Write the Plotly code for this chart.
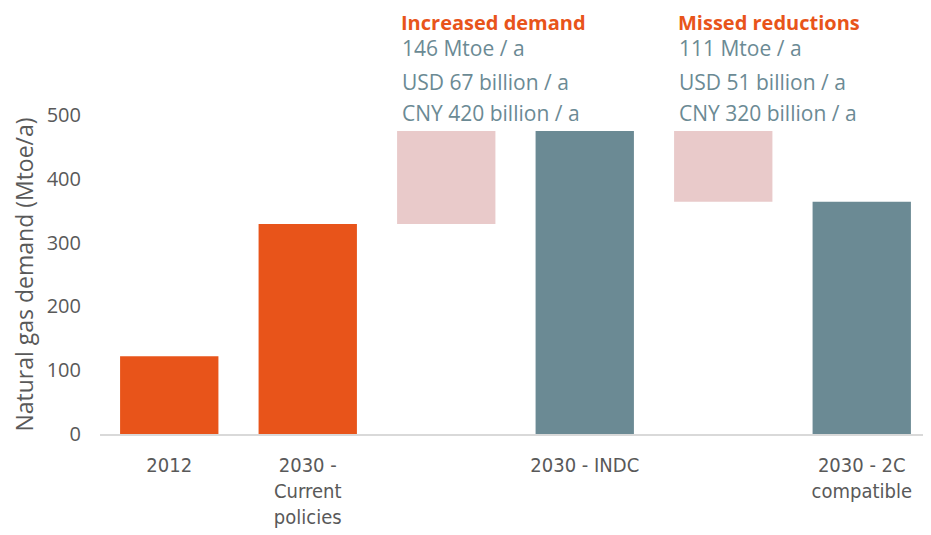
import plotly.graph_objects as go

categories = ["2012", "2030 -<br>Current<br>policies", "", "2030 - INDC", "", "2030 - 2C<br>compatible"]
bar_values = [122, 329, 146, 475, 111, 364]
bar_bases = [0, 0, 329, 0, 364, 0]
bar_colors = ["#E8541A", "#E8541A", "#E9CACA", "#6B8A94", "#E9CACA", "#6B8A94"]

notes_titles = ["Increased demand", "Missed reductions"]
notes_lines = [
    ["146 Mtoe / a", "USD 67 billion / a", "CNY 420 billion / a"],
    ["111 Mtoe / a", "USD 51 billion / a", "CNY 320 billion / a"],
]
note_x = [1.665, 3.665]
line_y = [1.2915, 1.21, 1.1034, 1.0063]

x = list(range(len(categories)))

fig = go.Figure(go.Bar(
    x=x, y=bar_values, base=bar_bases,
    marker=dict(color=bar_colors, line=dict(width=0)),
    width=0.71, hoverinfo="skip",
))

anns = []
for i in range(2):
    anns.append(dict(x=note_x[i], y=line_y[0], xref="x", yref="paper", text="<b>" + notes_titles[i] + "</b>",
                     showarrow=False, xanchor="left", yanchor="middle", borderpad=0,
                     font=dict(family="Open Sans", size=20, color="#E8541A")))
    for j, t in enumerate(notes_lines[i]):
        anns.append(dict(x=note_x[i], y=line_y[j + 1], xref="x", yref="paper", text=t,
                         showarrow=False, xanchor="left", yanchor="middle",
                         font=dict(family="Open Sans", size=21, color="#6B8A94")))

fig.update_layout(
    width=923, height=527,
    margin=dict(l=92, r=0, t=107, b=101),
    paper_bgcolor="white", plot_bgcolor="white",
    showlegend=False,
    annotations=anns,
    font=dict(family="Open Sans", color="#595959"),
    xaxis=dict(
        tickmode="array", tickvals=x, ticktext=categories,
        range=[-0.5, 5.5], showgrid=False, zeroline=False,
        showline=True, linecolor="#D9D9D9", linewidth=2,
        ticks="", tickfont=dict(family="DejaVu Sans Condensed, Lato", size=20, color="#595959"),
        ticklabelstandoff=12, automargin=False,
    ),
    yaxis=dict(
        range=[0, 500], tickvals=[0, 100, 200, 300, 400, 500],
        showgrid=False, zeroline=False, showline=False, ticks="",
        tickfont=dict(family="Open Sans", size=20, color="#595959"),
        ticklabelstandoff=18, automargin=False,
        title=dict(text="Natural gas demand (Mtoe/a)", font=dict(family="Open Sans", size=23, color="#595959"), standoff=14),
    ),
)

fig.write_html("out.html")
